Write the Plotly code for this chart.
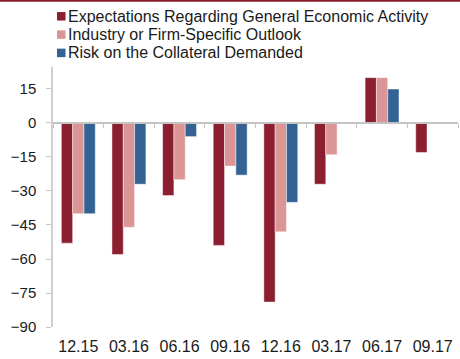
import plotly.graph_objects as go

# Quarterly survey categories and balance values (percent)
categories = ["12.15", "03.16", "06.16", "09.16", "12.16", "03.17", "06.17", "09.17"]
general_activity = [-53, -58, -32, -54, -79, -27, 20, -13]
firm_outlook = [-40, -46, -25, -19, -48, -14, 20, None]
collateral_risk = [-40, -27, -6, -23, -35, None, 15, None]

series_names = [
    "Expectations Regarding General Economic Activity",
    "Industry or Firm-Specific Outlook",
    "Risk on the Collateral Demanded",
]
series_colors = ["#8B1F2F", "#DB9595", "#346293"]
y_ticks = [15, 0, -15, -30, -45, -60, -75, -90]

Y_MIN, Y_MAX = -90, 24.7
W, H = 460, 359
M_L, M_R, M_T, M_B = 53, 2, 67, 32
FONT = "Arial, Liberation Sans, sans-serif"

plot_w = W - M_L - M_R
plot_h = H - M_T - M_B


def px_x(px):
    return (px - M_L) / plot_w


def px_y(py):
    return 1 + (M_T - py) / plot_h


fig = go.Figure()
for name, values, color in zip(series_names,
                               [general_activity, firm_outlook, collateral_risk],
                               series_colors):
    fig.add_trace(go.Bar(
        x=categories, y=values, name=name,
        marker=dict(color=color, line=dict(color="rgba(255,255,255,0.45)", width=1)),
        showlegend=False,
    ))

# helper trace carrying the zero-level category axis
n = len(categories)
fig.add_trace(go.Scatter(x=[-0.5, n - 0.5], y=[0, 0], xaxis="x2", mode="lines",
                         line=dict(width=0), showlegend=False, hoverinfo="skip"))

zero_pos = (0 - Y_MIN) / (Y_MAX - Y_MIN)

# compact legend: square swatch + label per series
shapes = [dict(
    type="line", xref="paper", yref="paper",
    x0=px_x(0), x1=px_x(W), y0=px_y(0.8), y1=px_y(0.8),
    line=dict(color="#8B1A2A", width=2),
)]
annotations = []
for i, (name, color) in enumerate(zip(series_names, series_colors)):
    cy = 16.3 + i * 18.3
    shapes.append(dict(
        type="rect", xref="paper", yref="paper",
        x0=px_x(57), x1=px_x(65.5), y0=px_y(cy - 4.25), y1=px_y(cy + 4.25),
        fillcolor=color, line=dict(width=0),
    ))
    annotations.append(dict(
        text=name, xref="paper", yref="paper", x=px_x(67), y=px_y(cy),
        xanchor="left", yanchor="middle", showarrow=False,
        font=dict(family=FONT, size=16, color="#1a1a1a"), borderpad=0,
    ))

fig.update_layout(
    width=W, height=H,
    margin=dict(l=M_L, r=M_R, t=M_T, b=M_B, pad=0),
    paper_bgcolor="white", plot_bgcolor="white",
    font=dict(family=FONT, size=15, color="#1a1a1a"),
    barmode="group", bargap=0.33, bargroupgap=0,
    showlegend=False,
    xaxis=dict(
        type="category", categoryorder="array", categoryarray=categories,
        range=[-0.5, n - 0.5], showline=False, ticks="", showgrid=False,
        zeroline=False, tickfont=dict(size=16), ticklabelstandoff=8,
    ),
    xaxis2=dict(
        overlaying="x", anchor="free", position=zero_pos, range=[-0.5, n - 0.5],
        tickvals=[i + 0.5 for i in range(-1, n)], showticklabels=False,
        ticks="outside", ticklen=4, tickcolor="#c4c4c4", tickwidth=1,
        showline=True, linecolor="#c4c4c4", linewidth=1.5, showgrid=False,
        zeroline=False,
    ),
    yaxis=dict(
        range=[Y_MIN, Y_MAX], tickvals=y_ticks, showgrid=False, zeroline=False,
        showline=True, linecolor="#d0d0d0", linewidth=1.5,
        ticks="outside", ticklen=5, tickcolor="#c4c4c4",
        tickfont=dict(size=15), ticklabelstandoff=7,
    ),
    shapes=shapes,
    annotations=annotations,
)

fig.write_html("out.html")
